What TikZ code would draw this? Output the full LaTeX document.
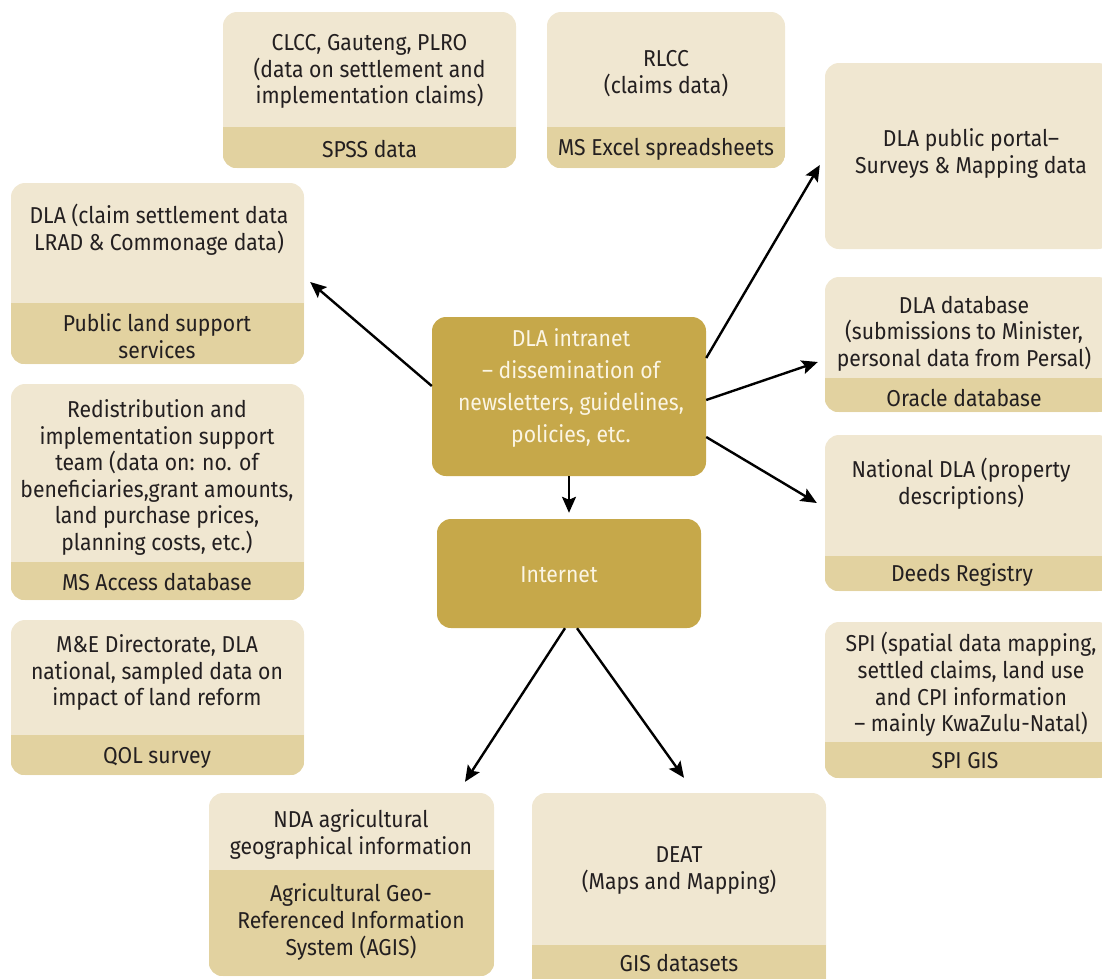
\documentclass[tikz,border=0pt]{standalone}
\usepackage{fontspec}
\setmainfont{Fira Sans}[FakeStretch=0.92]
\usetikzlibrary{arrows.meta}
\definecolor{boxlight}{HTML}{F0E7D1}
\definecolor{boxband}{HTML}{E2D2A0}
\definecolor{boxgold}{HTML}{C6A84A}
\definecolor{inktext}{HTML}{231F20}
\definecolor{goldtext}{HTML}{FBF5E4}
\tikzset{
  lightbox/.style={fill=boxlight, rounded corners=14pt, inner sep=0pt, draw=none},
  goldbox/.style={fill=boxgold, rounded corners=14pt, inner sep=0pt, draw=none},
  txt/.style={align=center, text=inktext, inner sep=0pt, font=\fontsize{23}{26.6}\selectfont},
  goldtxt/.style={align=center, text=goldtext, inner sep=0pt, font=\fontsize{23}{32}\selectfont},
  arr/.style={line width=2.4pt, -{Stealth[length=16pt,width=14pt,inset=3pt]}},
}
% name, x1, y1, x2, y2
\newcommand\databox[5]{%
  \node[lightbox, minimum width={(#4)-(#2)}, minimum height={(#5)-(#3)}] (#1) at ({((#2)+(#4))/2},{((#3)+(#5))/2}) {};}
% name, x1, split y
\newcommand\databand[3]{%
  \begin{scope}
  \clip[rounded corners=14pt] (#1.north west) rectangle (#1.south east);
  \fill[boxband] (#2,#3) rectangle (#1.south east);
  \end{scope}}
\begin{document}
\begin{tikzpicture}[x=1pt,y=-1pt]
\useasboundingbox (0,0) rectangle (1102,978);
\clip (0,0) rectangle (1102,978);
% boxes
\databox{clcc}{223}{12}{516}{168}\databand{clcc}{223}{127}
\databox{rlcc}{547}{12}{785}{168}\databand{rlcc}{547}{127}
\databox{portal}{825}{63}{1112}{249}
\databox{dladb}{825}{277}{1112}{412}\databand{dladb}{825}{378}
\databox{natdla}{825}{435}{1112}{591}\databand{natdla}{825}{556}
\databox{spi}{825}{622}{1112}{778}\databand{spi}{825}{742}
\databox{claim}{11}{183}{304}{364}\databand{claim}{11}{303}
\databox{redis}{11}{384}{304}{600}\databand{redis}{11}{562}
\databox{mande}{11}{620}{304}{775}\databand{mande}{11}{735}
\databox{nda}{209}{793}{494}{976}\databand{nda}{209}{870}
\databox{deat}{532}{793}{826}{1005}\databand{deat}{532}{945}
\node[goldbox, minimum width=274pt, minimum height=159pt] (intranet) at (569,396.5) {};
\node[goldbox, minimum width=264pt, minimum height=109pt] (internet) at (569,573.5) {};
% texts
\node[txt] (clcct) at (369.5,71.5) {CLCC, Gauteng, PLRO\\(data on settlement and\\implementation claims)};
\node[txt] (clccb) at (369.5,149) {SPSS data};
\node[txt] (rlcct) at (666,73.5) {RLCC\\(claims data)};
\node[txt] (rlccb) at (666,149) {MS Excel spreadsheets};
\node[txt] (portalt) at (971,153.5) {DLA public portal–\\Surveys \& Mapping data};
\node[txt] (dladbt) at (964,333.5) {DLA database\\(submissions to Minister,\\personal data from Persal)};
\node[txt] (dladbb) at (964,398) {Oracle database};
\node[txt] (natdlat) at (961,483.5) {National DLA (property\\descriptions)};
\node[txt] (natdlab) at (962,575) {Deeds Registry};
\node[txt] (spit) at (971,684.5) {SPI (spatial data mapping,\\settled claims, land use\\and CPI information\\– mainly KwaZulu-Natal)};
\node[txt] (spib) at (965,761) {SPI GIS};
\node[txt] (claimt) at (159,229.5) {DLA (claim settlement data\\LRAD \& Commonage data)};
\node[txt] (claimb) at (157,336) {Public land support\\services};
\node[txt] (redist) at (157,477.5) {Redistribution and\\implementation support\\team (data on: no. of\\beneficiaries,grant amounts,\\land purchase prices,\\planning costs, etc.)};
\node[txt] (redisb) at (157,582) {MS Access database};
\node[txt] (mandet) at (157,672.5) {M\&E Directorate, DLA\\national, sampled data on\\impact of land reform};
\node[txt] (mandeb) at (157,758) {QOL survey};
\node[txt] (ndat) at (351,834.5) {NDA agricultural\\geographical information};
\node[txt] (ndab) at (351,922) {Agricultural Geo-\\Referenced Information\\System (AGIS)};
\node[txt] (deatt) at (679,870.5) {DEAT\\(Maps and Mapping)};
\node[txt] (deatb) at (679,963) {GIS datasets};
\node[goldtxt] (intranett) at (571,388) {DLA intranet\\– dissemination of\\newsletters, guidelines,\\policies, etc.};
\node[goldtxt] (internett) at (559,575) {Internet};
% arrows
\draw[arr] (intranet.south) -- ([yshift=6pt]internet.north);
\draw[arr] ([yshift=10.5pt]intranet.west) -- ([xshift=6pt,yshift=-8.5pt]claim.east);
\draw[arr] ([yshift=38.5pt]intranet.east) -- ([xshift=-5pt,yshift=-9pt]portal.west);
\draw[arr] ([yshift=-3.5pt]intranet.east) -- ([xshift=-7pt,yshift=-17.5pt]dladb.west);
\draw[arr] ([yshift=-40.5pt]intranet.east) -- ([xshift=-8pt,yshift=10pt]natdla.west);
\draw[arr] ([xshift=-4pt]internet.south) -- ([xshift=113.5pt,yshift=11pt]nda.north);
\draw[arr] ([xshift=8pt]internet.south) -- ([xshift=5pt,yshift=15pt]deat.north);
\end{tikzpicture}
\end{document}
